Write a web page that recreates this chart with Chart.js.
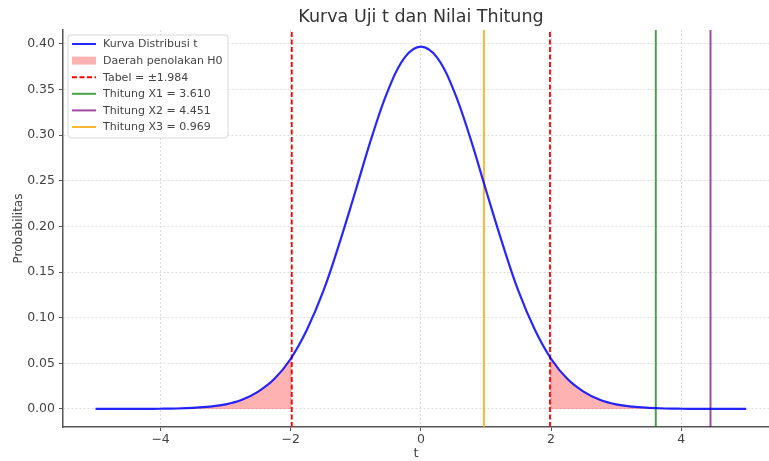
<!DOCTYPE html>
<html>
<head>
<meta charset="utf-8">
<script src="https://cdn.jsdelivr.net/npm/chart.js@4.4.0/dist/chart.umd.min.js"></script>
<style>
  html, body { margin: 0; padding: 0; background: #fff; overflow: hidden; }
  #wrap { width: 769px; height: 461px; position: relative; }
</style>
</head>
<body>
<div id="wrap"><canvas id="chart"></canvas></div>
<script>
// data
const tValues = [-5, -4.75, -4.5, -4.25, -4, -3.75, -3.5, -3.25, -3, -2.75, -2.5, -2.25, -2, -1.75, -1.5, -1.25, -1, -0.75, -0.5, -0.25,
  0, 0.25, 0.5, 0.75, 1, 1.25, 1.5, 1.75, 2, 2.25, 2.5, 2.75, 3, 3.25, 3.5, 3.75, 4, 4.25, 4.5, 4.75, 5];
const density = [0, 0, 0, 0.0001, 0.0002, 0.0005, 0.0012, 0.0025, 0.005, 0.010, 0.019, 0.033, 0.055, 0.087, 0.129, 0.182, 0.240, 0.299, 0.350, 0.385,
  0.397, 0.385, 0.350, 0.299, 0.240, 0.182, 0.129, 0.087, 0.055, 0.033, 0.019, 0.010, 0.005, 0.0025, 0.0012, 0.0005, 0.0002, 0.0001, 0, 0, 0];
const tTabel = 1.984;
const densityAtTabel = 0.056;
const thitungValues = [3.610, 4.451, 0.969];
const thitungLabels = ['Thitung X1 = 3.610', 'Thitung X2 = 4.451', 'Thitung X3 = 0.969'];
const thitungColors = ['rgba(0,128,0,0.72)', 'rgba(128,0,128,0.72)', 'rgba(255,165,0,0.8)'];
const xTicks = [-4, -2, 0, 2, 4];
const yTicks = [0, 0.05, 0.10, 0.15, 0.20, 0.25, 0.30, 0.35, 0.40];

const Y_MIN = -0.0198, Y_MAX = 0.4153;
const FONT = "'DejaVu Sans', sans-serif";

const curve = tValues.map((t, i) => ({ x: t, y: density[i] }));
const leftTail = curve.filter(p => p.x <= -tTabel).concat([{ x: -tTabel, y: densityAtTabel }]);
const rightTail = [{ x: tTabel, y: densityAtTabel }].concat(curve.filter(p => p.x >= tTabel));
const vline = v => [{ x: v, y: Y_MIN }, { x: v, y: Y_MAX }];

const datasets = [
  { label: 'Kurva Distribusi t', data: curve, borderColor: 'rgba(0,0,255,0.85)', borderWidth: 2.2, tension: 0.4, order: 1 },
  { label: 'Daerah penolakan H0', data: leftTail, borderWidth: 0, backgroundColor: 'rgba(255,0,0,0.3)', fill: 'origin', cubicInterpolationMode: 'monotone', legendType: 'box', order: 3 },
  { label: '', data: rightTail, borderWidth: 0, backgroundColor: 'rgba(255,0,0,0.3)', fill: 'origin', cubicInterpolationMode: 'monotone', noLegend: true, order: 3 },
  { label: 'Tabel = \u00b11.984', data: vline(-tTabel), borderColor: '#ff0000', borderWidth: 1.8, borderDash: [5, 2.5], order: 2 },
  { label: '', data: vline(tTabel), borderColor: '#ff0000', borderWidth: 1.8, borderDash: [5, 2.5], noLegend: true, order: 2 },
];
thitungValues.forEach((v, i) => {
  datasets.push({ label: thitungLabels[i], data: vline(v), borderColor: thitungColors[i], borderWidth: 2, order: 2 });
});
datasets.forEach(d => { d.pointRadius = 0; d.pointHoverRadius = 0; if (!d.fill) d.fill = false; });

// title + legend drawn inside the axes like the original
const overlay = {
  id: 'overlay',
  afterDraw(chart) {
    const ctx = chart.ctx;
    ctx.save();
    ctx.fillStyle = '#333';
    ctx.font = '17.5px ' + FONT;
    ctx.textAlign = 'center';
    ctx.textBaseline = 'middle';
    ctx.fillText('Kurva Uji t dan Nilai Thitung', 421, 17);

    const items = chart.data.datasets.filter(d => !d.noLegend);
    const bx = 68, by = 35, bw = 160, bh = 103;
    ctx.beginPath();
    ctx.roundRect(bx, by, bw, bh, 3);
    ctx.fillStyle = 'rgba(255,255,255,0.85)';
    ctx.fill();
    ctx.strokeStyle = '#d8d8d8';
    ctx.lineWidth = 1;
    ctx.stroke();

    ctx.font = '11px ' + FONT;
    ctx.textAlign = 'left';
    items.forEach((d, i) => {
      const y = 44 + i * 16.6;
      if (d.legendType === 'box') {
        ctx.fillStyle = d.backgroundColor;
        ctx.fillRect(72, y - 4, 24, 8);
      } else {
        ctx.beginPath();
        ctx.setLineDash(d.borderDash || []);
        ctx.strokeStyle = d.borderColor;
        ctx.lineWidth = 2;
        ctx.moveTo(72, y);
        ctx.lineTo(96, y);
        ctx.stroke();
        ctx.setLineDash([]);
      }
      ctx.fillStyle = '#444';
      ctx.fillText(d.label, 103, y + 0.5);
    });
    ctx.restore();
  }
};

new Chart(document.getElementById('chart'), {
  type: 'line',
  data: { datasets },
  options: {
    responsive: true,
    maintainAspectRatio: false,
    animation: false,
    layout: { padding: { top: 30, right: 0, bottom: 0, left: 0 } },
    plugins: { legend: { display: false }, title: { display: false }, tooltip: { enabled: false } },
    scales: {
      x: {
        type: 'linear', min: -5.5, max: 5.35,
        afterBuildTicks: s => { s.ticks = xTicks.map(v => ({ value: v })); },
        afterFit: s => { s.height = 34; },
        ticks: { color: '#444', font: { family: FONT, size: 12.5 }, padding: 1,
          callback: v => String(v).replace('-', '\u2212') },
        grid: { color: '#dcdcdc', lineWidth: 1, tickLength: 4, tickColor: '#555', tickBorderDash: [] },
        border: { color: '#555', width: 1.5, dash: [2, 2] },
        title: { display: true, text: 't', color: '#444', font: { family: FONT, size: 13 }, padding: { top: 0, bottom: 0 } }
      },
      y: {
        type: 'linear', min: Y_MIN, max: Y_MAX,
        afterBuildTicks: s => { s.ticks = yTicks.map(v => ({ value: v })); },
        afterFit: s => { s.width = 63; },
        ticks: { color: '#444', font: { family: FONT, size: 12.5 }, padding: 4,
          callback: v => v.toFixed(2) },
        grid: { color: '#dcdcdc', lineWidth: 1, tickLength: 4, tickColor: '#555', tickBorderDash: [] },
        border: { color: '#555', width: 1.5, dash: [2, 2] },
        title: { display: true, text: 'Probabilitas', color: '#444', font: { family: FONT, size: 12 }, padding: { top: 12, bottom: 0 } }
      }
    }
  },
  plugins: [overlay]
});
</script>
</body>
</html>
